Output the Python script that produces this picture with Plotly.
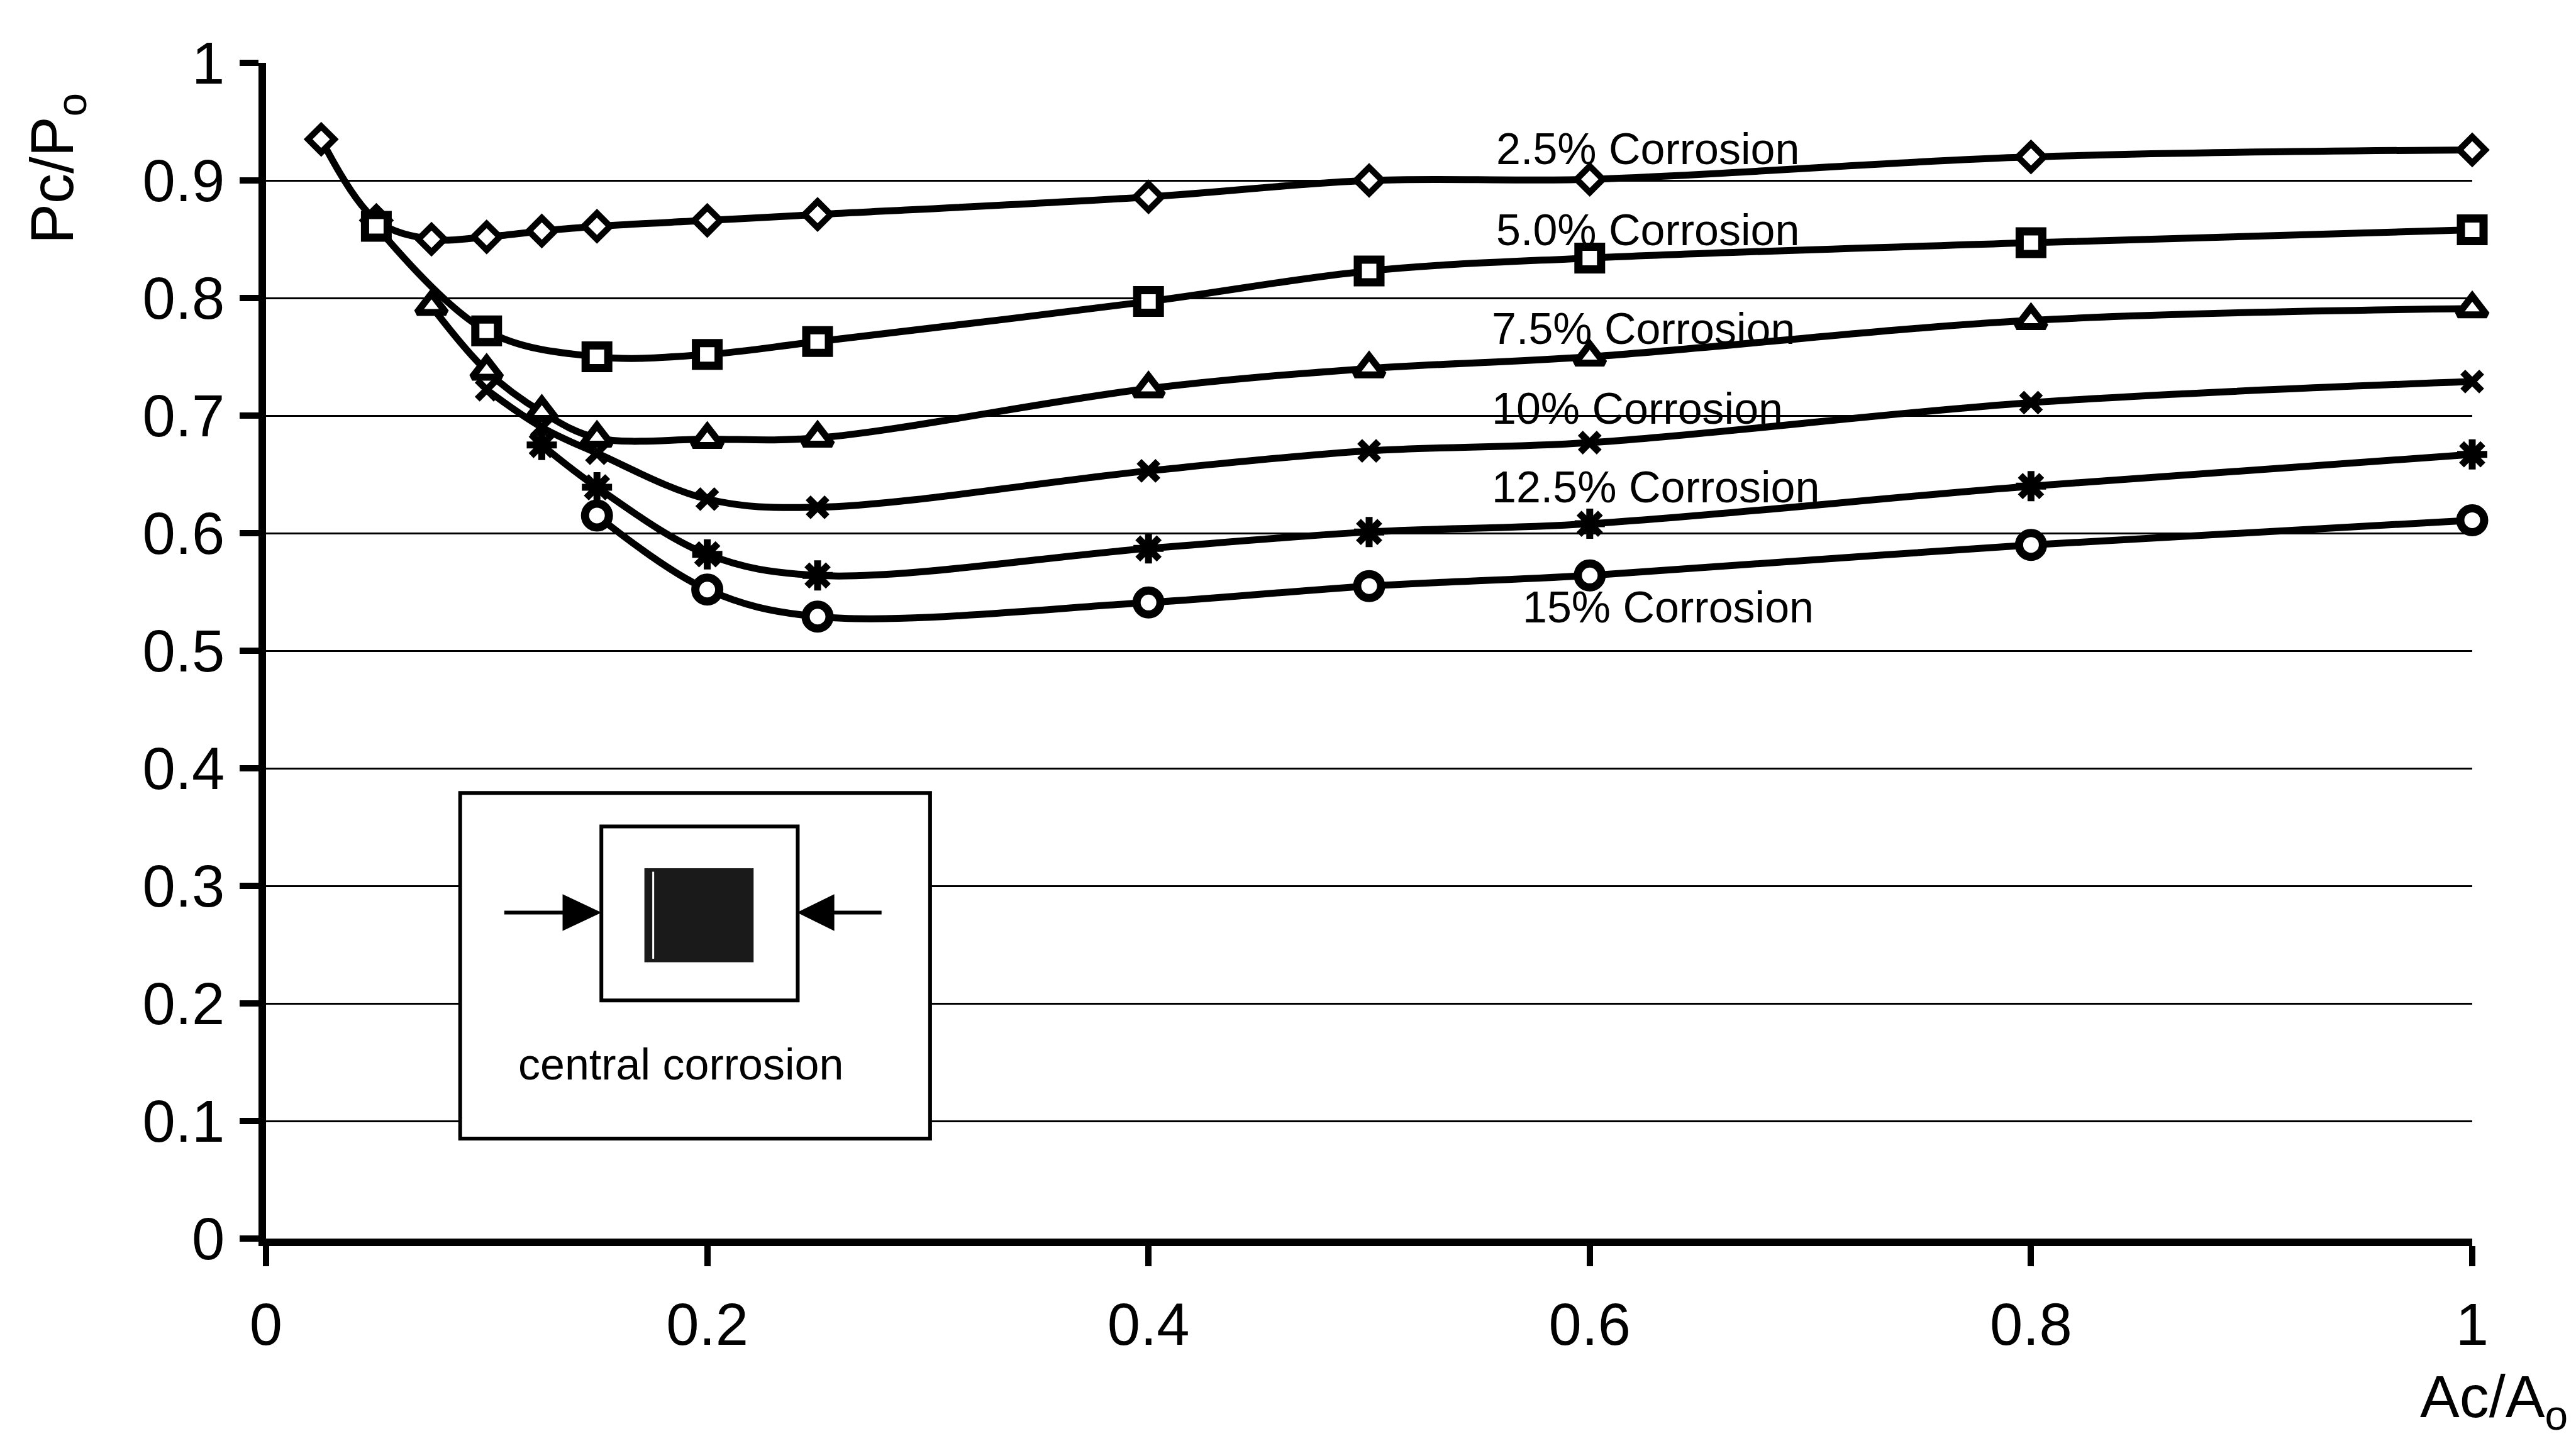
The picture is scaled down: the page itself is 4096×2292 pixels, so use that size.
import plotly.graph_objects as go

# ---------------- data ----------------
x_25 = [0.025, 0.05, 0.075, 0.1, 0.125, 0.15, 0.2, 0.25, 0.4, 0.5, 0.6, 0.8, 1.0]
y_25 = [0.935, 0.866, 0.850, 0.852, 0.857, 0.861, 0.866, 0.871, 0.886, 0.900, 0.901, 0.920, 0.926]

x_50 = [0.05, 0.1, 0.15, 0.2, 0.25, 0.4, 0.5, 0.6, 0.8, 1.0]
y_50 = [0.861, 0.772, 0.750, 0.752, 0.763, 0.797, 0.823, 0.834, 0.847, 0.858]

x_75 = [0.075, 0.1, 0.125, 0.15, 0.2, 0.25, 0.4, 0.5, 0.6, 0.8, 1.0]
y_75 = [0.793, 0.738, 0.703, 0.681, 0.680, 0.681, 0.723, 0.740, 0.750, 0.781, 0.791]

x_100 = [0.1, 0.125, 0.15, 0.2, 0.25, 0.4, 0.5, 0.6, 0.8, 1.0]
y_100 = [0.722, 0.690, 0.668, 0.629, 0.622, 0.653, 0.670, 0.677, 0.711, 0.729]

x_125 = [0.125, 0.15, 0.2, 0.25, 0.4, 0.5, 0.6, 0.8, 1.0]
y_125 = [0.675, 0.639, 0.582, 0.564, 0.587, 0.601, 0.608, 0.640, 0.667]

x_150 = [0.15, 0.2, 0.25, 0.4, 0.5, 0.6, 0.8, 1.0]
y_150 = [0.615, 0.552, 0.529, 0.541, 0.555, 0.564, 0.590, 0.611]

series_names = ["2.5% Corrosion", "5.0% Corrosion", "7.5% Corrosion",
                "10% Corrosion", "12.5% Corrosion", "15% Corrosion"]
label_x = [0.557, 0.557, 0.555, 0.555, 0.555, 0.569]
label_y = [0.927, 0.858, 0.774, 0.706, 0.639, 0.537]

x_tick_vals = [0, 0.2, 0.4, 0.6, 0.8, 1.0]
x_tick_text = ["0", "0.2", "0.4", "0.6", "0.8", "1"]
y_tick_vals = [0, 0.1, 0.2, 0.3, 0.4, 0.5, 0.6, 0.7, 0.8, 0.9, 1.0]
y_tick_text = ["0", "0.1", "0.2", "0.3", "0.4", "0.5", "0.6", "0.7", "0.8", "0.9", "1"]

FONT = "Liberation Sans, Arial, Helvetica, sans-serif"
INK = "black"

fig = go.Figure()

marker_styles = [
    dict(symbol="diamond", size=32, line=dict(width=10, color=INK), color="white"),
    dict(symbol="square", size=36, line=dict(width=13, color=INK), color="white"),
    dict(symbol="triangle-up", size=40, line=dict(width=11, color=INK), color="white"),
    dict(symbol="x-thin", size=30, line=dict(width=11, color=INK), color=INK),
    dict(symbol="asterisk", size=40, line=dict(width=11, color=INK), color=INK),
    dict(symbol="circle", size=38, line=dict(width=13, color=INK), color="white"),
]

data = [(x_25, y_25), (x_50, y_50), (x_75, y_75),
        (x_100, y_100), (x_125, y_125), (x_150, y_150)]

for (xs, ys), name, ms in zip(data, series_names, marker_styles):
    fig.add_trace(go.Scatter(
        x=xs, y=ys, name=name, mode="lines+markers",
        line=dict(color=INK, width=11, shape="spline", smoothing=1.0),
        marker=ms, cliponaxis=False, showlegend=False,
    ))

# series labels
for t, lx, ly in zip(series_names, label_x, label_y):
    fig.add_annotation(x=lx, y=ly, xref="x", yref="y", text=t, showarrow=False,
                       xanchor="left", yanchor="middle",
                       font=dict(family=FONT, size=70, color=INK))

# ---------------- inset sketch ----------------
shapes = []
shapes.append(dict(type="rect", xref="x", yref="y", x0=0.088, x1=0.301, y0=0.085, y1=0.379,
                   line=dict(color=INK, width=6), fillcolor="white", layer="above"))
shapes.append(dict(type="rect", xref="x", yref="y", x0=0.152, x1=0.241, y0=0.2025, y1=0.3505,
                   line=dict(color=INK, width=6), fillcolor="white", layer="above"))
shapes.append(dict(type="rect", xref="x", yref="y", x0=0.1715, x1=0.221, y0=0.235, y1=0.315,
                   line=dict(width=0), fillcolor="#1a1a1a", layer="above"))
shapes.append(dict(type="line", xref="x", yref="y", x0=0.1755, x1=0.1755, y0=0.238, y1=0.312,
                   line=dict(color="white", width=3), layer="above"))
# arrows
shapes.append(dict(type="line", xref="x", yref="y", x0=0.108, x1=0.140, y0=0.2773, y1=0.2773,
                   line=dict(color=INK, width=6), layer="above"))
shapes.append(dict(type="path", xref="x", yref="y",
                   path="M 0.1347,0.2625 L 0.1514,0.2773 L 0.1347,0.2921 Z",
                   line=dict(color=INK, width=2), fillcolor=INK, layer="above"))
shapes.append(dict(type="line", xref="x", yref="y", x0=0.252, x1=0.279, y0=0.2773, y1=0.2773,
                   line=dict(color=INK, width=6), layer="above"))
shapes.append(dict(type="path", xref="x", yref="y",
                   path="M 0.2573,0.2625 L 0.2413,0.2773 L 0.2573,0.2921 Z",
                   line=dict(color=INK, width=2), fillcolor=INK, layer="above"))
fig.update_layout(shapes=shapes)

fig.add_annotation(x=0.188, y=0.148, xref="x", yref="y", text="central corrosion",
                   showarrow=False, xanchor="center", yanchor="middle",
                   font=dict(family=FONT, size=70, color=INK))

# axis titles
fig.add_annotation(x=-0.095, y=0.91, xref="paper", yref="paper",
                   text="Pc/P<sub>o</sub>", textangle=-90, showarrow=False,
                   xanchor="center", yanchor="middle",
                   font=dict(family=FONT, size=96, color=INK))
fig.add_annotation(x=1.044, y=-0.138, xref="paper", yref="paper",
                   text="Ac/A<sub>o</sub>", showarrow=False,
                   xanchor="right", yanchor="middle",
                   font=dict(family=FONT, size=94, color=INK))

fig.update_xaxes(range=[0, 1], tickvals=x_tick_vals, ticktext=x_tick_text,
                 showline=True, linewidth=12, linecolor=INK, mirror=False,
                 ticks="outside", ticklen=32, tickwidth=10, tickcolor=INK,
                 showgrid=False, zeroline=False, ticklabelstandoff=12,
                 tickfont=dict(family=FONT, size=94, color=INK))
fig.update_yaxes(range=[0, 1], tickvals=y_tick_vals, ticktext=y_tick_text,
                 showline=True, linewidth=12, linecolor=INK, mirror=False,
                 ticks="outside", ticklen=30, tickwidth=10, tickcolor=INK,
                 showgrid=True, gridcolor=INK, gridwidth=3,
                 zeroline=False, ticklabelstandoff=5,
                 tickfont=dict(family=FONT, size=94, color=INK))

fig.update_layout(width=4096, height=2292, autosize=False,
                  margin=dict(l=423, r=165, t=100, b=322, pad=0),
                  plot_bgcolor="white", paper_bgcolor="white",
                  font=dict(family=FONT, color=INK))

fig.write_html("out.html")
